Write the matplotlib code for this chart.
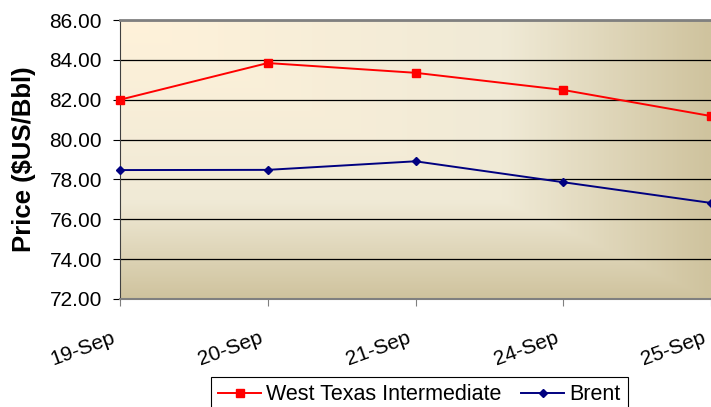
import numpy as np
import matplotlib
matplotlib.use('Agg')
import matplotlib.pyplot as plt
import matplotlib.transforms as mtransforms
from matplotlib.colors import LinearSegmentedColormap

plt.rcParams['font.family'] = ['Liberation Sans', 'DejaVu Sans']

dates = ['19-Sep', '20-Sep', '21-Sep', '24-Sep', '25-Sep']
wti = [82.00, 83.84, 83.35, 82.49, 81.18]
brent = [78.47, 78.48, 78.91, 77.86, 76.82]
yticks = [72, 74, 76, 78, 80, 82, 84, 86]

fig = plt.figure(figsize=(7.11, 4.07), dpi=100)
ax = fig.add_axes([120/711, 1-299/407, 1-120/711, (299-20)/407])

# corner gradient background (light top-left -> tan bottom/right)
cmap = LinearSegmentedColormap.from_list('bg', [(0.0, '#fff2da'), (0.65, '#f0ead6'), (1.0, '#cfc39e')])
gx, gy = np.meshgrid(np.linspace(0, 1, 300), np.linspace(0, 1, 300))
grad = np.maximum(gx, gy)
ax.imshow(grad, cmap=cmap, extent=[0, 1, 0, 1], transform=ax.transAxes,
          aspect='auto', origin='upper', zorder=0, interpolation='bilinear')

x = np.arange(len(dates))
ax.plot(x, wti, color='#ff0000', lw=1.4, marker='s', ms=6, label='West Texas Intermediate',
        zorder=3, clip_on=False)
ax.plot(x, brent, color='#000080', lw=1.4, marker='D', ms=4.5, label='Brent',
        zorder=3, clip_on=False)

ax.set_xlim(0, 4)
ax.set_ylim(72, 86)
ax.set_yticks(yticks)
ax.set_yticklabels(['%.2f' % v for v in yticks], fontsize=15)
ax.set_xticks(x)
ax.set_xticklabels(dates, fontsize=15, rotation=20, ha='right', va='top', rotation_mode='anchor')
ax.tick_params(axis='x', length=5, pad=16, color='#808080')
ax.tick_params(axis='y', length=5, pad=8, color='black')
# shift the rotated date labels a little left of their ticks
shift = mtransforms.ScaledTranslation(-9/100, 0, fig.dpi_scale_trans)
for lab in ax.get_xticklabels():
    lab.set_transform(lab.get_transform() + shift)
ax.grid(axis='y', color='black', lw=0.9)
ax.set_axisbelow(True)

ax.spines['right'].set_visible(False)
ax.spines['top'].set_color('#808080')
ax.spines['top'].set_linewidth(2)
ax.spines['left'].set_color('#404040')
ax.spines['bottom'].set_color('#808080')
ax.spines['bottom'].set_linewidth(1.5)

ax.set_ylabel('Price ($US/Bbl)', fontsize=18.5, fontweight='bold', va='center')
ax.yaxis.set_label_coords(-96/591, 0.5)

leg = fig.legend(loc='upper center', bbox_to_anchor=(0.590, 0.0735), ncol=2, fontsize=15.5,
                 fancybox=False, edgecolor='black', framealpha=1, borderpad=0.33,
                 handlelength=2.0, columnspacing=0.9, handletextpad=0.25, borderaxespad=0)
leg.get_frame().set_linewidth(0.8)

fig.savefig('out.png', dpi=100)
